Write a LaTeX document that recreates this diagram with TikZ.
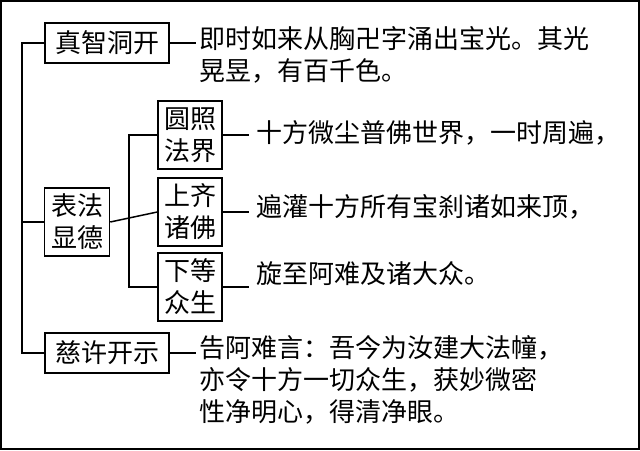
\documentclass[tikz,border=0pt]{standalone}
\usepackage{fontspec}
\setmainfont{Noto Sans CJK SC}
\usetikzlibrary{calc}

\begin{document}
\begin{tikzpicture}[x=1pt,y=-1pt,
           topic/.style={draw=black, line width=1.5pt, inner sep=0pt,
              minimum width=124pt, minimum height=40pt, font=\fontsize{26}{32}\selectfont},
           pair/.style={draw=black, line width=1.5pt, inner sep=0pt, align=center,
              minimum width=64pt, minimum height=68pt, font=\fontsize{26}{32}\selectfont},
           remark/.style={anchor=north west, inner sep=0pt, align=left,
              font=\fontsize{26}{32}\selectfont},
           connections/.style={draw=black, line width=1.5pt},
        ]
        \useasboundingbox (0,0) rectangle (640,450);
        \draw[line width=1.5pt] (1,1) rectangle (639,449);

        \node at (107,43) (insight) [topic] {真智洞开};
        \node at (77,222) (virtue) [pair,minimum width=65pt] {表法\\显德};
        \node at (107,353) (grant) [topic] {慈许开示};
        \node at (190,135) (realm) [pair] {圆照\\法界};
        \node at (190,212) (buddhas) [pair] {上齐\\诸佛};
        \node at (190,287) (beings) [pair] {下等\\众生};

        \node at (199,26) (insightText) [remark] {即时如来从胸卍字涌出宝光。其光\\晃昱，有百千色。};
        \node at (256,120) (realmText) [remark] {十方微尘普佛世界，一时周遍，};
        \node at (256,194) (buddhasText) [remark] {遍灌十方所有宝刹诸如来顶，};
        \node at (256,261) (beingsText) [remark] {旋至阿难及诸大众。};
        \node at (199,335) (grantText) [remark] {告阿难言：吾今为汝建大法幢，\\亦令十方一切众生，获妙微密\\性净明心，得清净眼。};

        % trunks
        \draw[connections] (insight.west) -| (22,0 |- virtue.west) |- (grant.west);
        \draw[connections] (22,0 |- virtue.west) -- (virtue.west);
        \draw[connections] (realm.west) -| (129,0 |- virtue.east) |- (beings.west);
        \draw[connections] (virtue.east) -- (buddhas.west);
        % leaders
        \draw[connections] (insight.east) -- (196,43);
        \draw[connections] (grant.east) -- (196,353);
        \draw[connections] (realm.east) -- (249,135);
        \draw[connections] (buddhas.east) -- (249,212);
        \draw[connections] (beings.east) -- (249,287);
     \end{tikzpicture}
\end{document}
